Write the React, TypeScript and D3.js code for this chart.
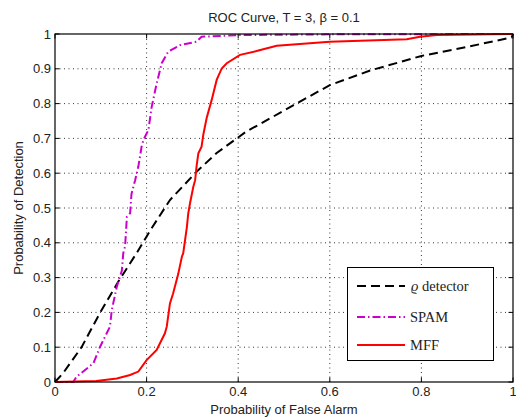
import React from "react";
import * as d3 from "d3";

const rhoX = [0, 0.018, 0.058, 0.098, 0.138, 0.178, 0.21, 0.251, 0.309, 0.353, 0.418, 0.45, 0.52, 0.6, 0.688, 0.8, 0.9, 0.997, 1];
const rhoY = [0, 0.026, 0.1, 0.198, 0.288, 0.37, 0.44, 0.523, 0.604, 0.658, 0.72, 0.743, 0.795, 0.853, 0.895, 0.937, 0.963, 0.99, 1];

const spamX = [0, 0.04, 0.047, 0.084, 0.098, 0.12, 0.124, 0.135, 0.146, 0.149, 0.153, 0.157, 0.164, 0.167, 0.175, 0.182, 0.189, 0.193, 0.2, 0.204, 0.211, 0.222, 0.233, 0.247, 0.273, 0.309, 0.32, 0.404, 0.6, 1];
const spamY = [0, 0, 0.015, 0.054, 0.1, 0.159, 0.207, 0.274, 0.32, 0.37, 0.389, 0.475, 0.485, 0.54, 0.58, 0.619, 0.676, 0.695, 0.714, 0.724, 0.79, 0.858, 0.916, 0.949, 0.968, 0.978, 0.992, 0.997, 0.999, 1];

const mffX = [0, 0.09, 0.135, 0.164, 0.182, 0.2, 0.222, 0.24, 0.244, 0.251, 0.258, 0.269, 0.277, 0.28, 0.288, 0.291, 0.295, 0.302, 0.306, 0.309, 0.313, 0.32, 0.324, 0.331, 0.342, 0.353, 0.364, 0.375, 0.404, 0.44, 0.484, 0.6, 0.768, 0.797, 0.833, 1];
const mffY = [0, 0.003, 0.01, 0.02, 0.03, 0.063, 0.092, 0.14, 0.159, 0.226, 0.255, 0.31, 0.36, 0.37, 0.446, 0.485, 0.515, 0.561, 0.58, 0.619, 0.657, 0.676, 0.712, 0.758, 0.81, 0.868, 0.901, 0.916, 0.94, 0.951, 0.966, 0.978, 0.985, 0.992, 0.997, 1];

const xTicks = [0, 0.2, 0.4, 0.6, 0.8, 1];
const yTicks = [0, 0.1, 0.2, 0.3, 0.4, 0.5, 0.6, 0.7, 0.8, 0.9, 1];
const legendLabels = ["detector", "SPAM", "MFF"];

const W = 516, H = 418;
const L = 55, R = 513, T = 34, B = 382;

export default function App() {
  const x = d3.scaleLinear().domain([0, 1]).range([L, R]);
  const y = d3.scaleLinear().domain([0, 1]).range([B, T]);
  const line = d3.line<[number, number]>().x(d => x(d[0])).y(d => y(d[1]));
  const zip = (a: number[], b: number[]) => a.map((v, i) => [v, b[i]] as [number, number]);
  const sans = "'Liberation Sans', Arial, Helvetica, sans-serif";
  const serif = "'Liberation Serif', 'DejaVu Serif', serif";
  const tl = 4.5;
  const styles = [
    { stroke: "#000", dash: "9,5" },
    { stroke: "#cc00cc", dash: "8,3,1.5,3" },
    { stroke: "#ff0000", dash: "none" },
  ];
  const lx1 = 357, lx2 = 405;
  const ly = [286, 317, 345];
  return (
    <svg width={W} height={H} style={{ position: "absolute", left: 0, top: 0 }}>
      <rect x={0} y={0} width={W} height={H} fill="#fff" />
      <rect x={L} y={T} width={R - L} height={B - T} fill="#fff" />
      {xTicks.slice(1, -1).map(t => (
        <line key={"gx" + t} x1={x(t)} x2={x(t)} y1={B} y2={T} stroke="#000" strokeWidth={0.8} strokeDasharray="1,3.5" />
      ))}
      {yTicks.slice(1, -1).map(t => (
        <line key={"gy" + t} x1={L} x2={R} y1={y(t)} y2={y(t)} stroke="#000" strokeWidth={0.8} strokeDasharray="1,3.5" />
      ))}
      {xTicks.map(t => (
        <g key={"tx" + t}>
          <line x1={x(t)} x2={x(t)} y1={B} y2={B - tl} stroke="#000" />
          <line x1={x(t)} x2={x(t)} y1={T} y2={T + tl} stroke="#000" />
          <text x={x(t)} y={395.5} fontSize={13} fontFamily={sans} textAnchor="middle" fill="#222">{t}</text>
        </g>
      ))}
      {yTicks.map(t => (
        <g key={"ty" + t}>
          <line x1={L} x2={L + tl} y1={y(t)} y2={y(t)} stroke="#000" />
          <line x1={R} x2={R - tl} y1={y(t)} y2={y(t)} stroke="#000" />
          <text x={51} y={y(t) + 4.5} fontSize={13} fontFamily={sans} textAnchor="end" fill="#222">{t}</text>
        </g>
      ))}
      {[zip(rhoX, rhoY), zip(spamX, spamY), zip(mffX, mffY)].map((d, i) => (
        <path key={"s" + i} d={line(d) || ""} fill="none" stroke={styles[i].stroke} strokeWidth={2} strokeDasharray={styles[i].dash} />
      ))}
      <rect x={L} y={T} width={R - L} height={B - T} fill="none" stroke="#000" strokeWidth={1.2} />
      <rect x={347.5} y={267.5} width={146} height={93} fill="#fff" stroke="#000" strokeWidth={1} />
      {legendLabels.map((lab, i) => (
        <g key={"lg" + i}>
          <line x1={lx1} x2={lx2} y1={ly[i]} y2={ly[i]} stroke={styles[i].stroke} strokeWidth={2} strokeDasharray={styles[i].dash} />
          <text x={i === 0 ? 411 : 410} y={ly[i] + 4.5} fontSize={14.5} fontFamily={serif} fill="#222">
            {i === 0 ? <tspan fontStyle="italic">ϱ </tspan> : null}
            {lab}
          </text>
        </g>
      ))}
      <text x={(L + R) / 2} y={21.5} fontSize={13} fontFamily={sans} textAnchor="middle" fill="#222">ROC Curve, T = 3, β = 0.1</text>
      <text x={(L + R) / 2} y={414} fontSize={13} fontFamily={sans} textAnchor="middle" fill="#222">Probability of False Alarm</text>
      <text transform={`translate(22.5,${(T + B) / 2}) rotate(-90)`} fontSize={13} fontFamily={sans} textAnchor="middle" fill="#222">Probability of Detection</text>
    </svg>
  );
}
